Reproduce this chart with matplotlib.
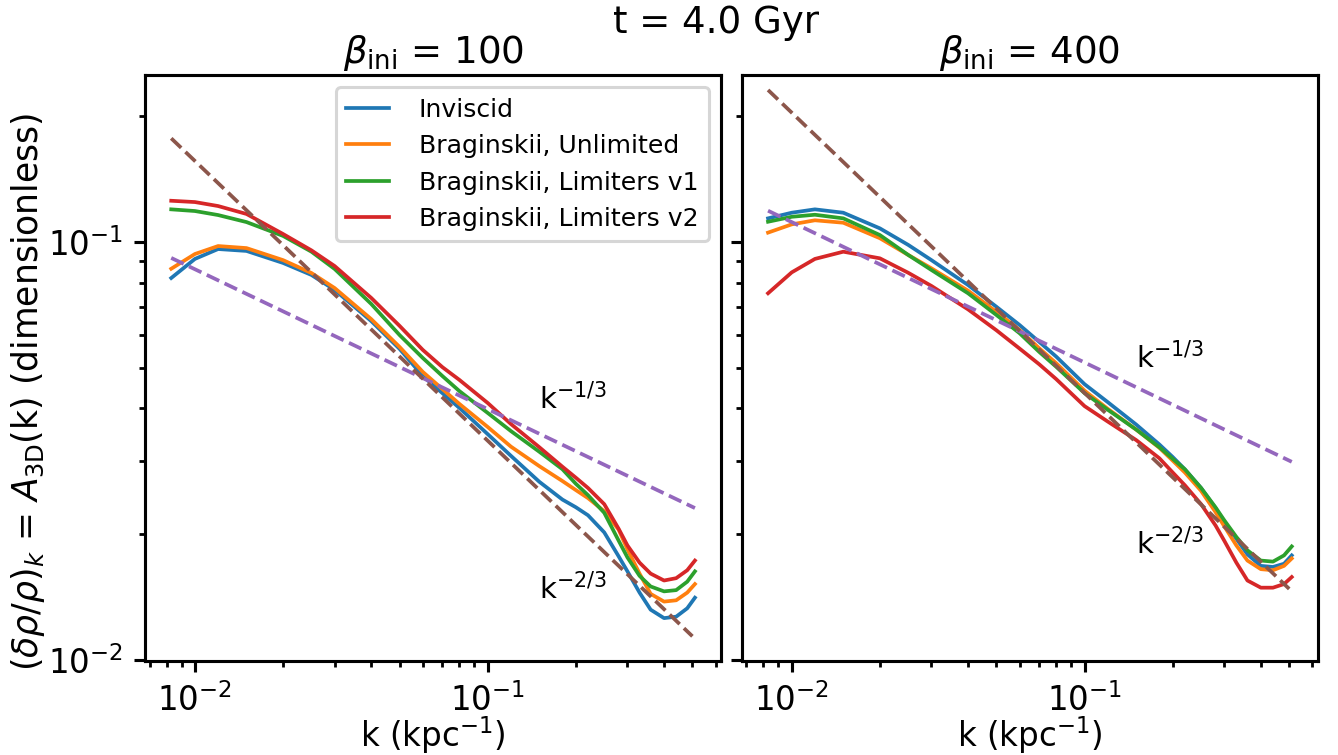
import matplotlib
matplotlib.use("Agg")
import matplotlib.pyplot as plt

# wavenumbers (kpc^-1), shared by every curve
k = [0.0083, 0.01, 0.012, 0.015, 0.02, 0.025, 0.03, 0.04, 0.05, 0.06, 0.07,
     0.08, 0.1, 0.12, 0.15, 0.18, 0.2, 0.22, 0.25, 0.28, 0.3, 0.33, 0.36,
     0.4, 0.44, 0.48, 0.51]

labels = ["Inviscid", "Braginskii, Unlimited", "Braginskii, Limiters v1",
          "Braginskii, Limiters v2"]

# beta_ini = 100
b100_inviscid = [0.0820, 0.0911, 0.0962, 0.0952, 0.0891, 0.0834, 0.0768, 0.0647,
                 0.0555, 0.0478, 0.0435, 0.0401, 0.0347, 0.0308, 0.0267, 0.0242,
                 0.0232, 0.0222, 0.0202, 0.0177, 0.0163, 0.0145, 0.0132, 0.0126,
                 0.0127, 0.0133, 0.0141]
b100_unlimited = [0.0863, 0.0936, 0.0978, 0.0967, 0.0905, 0.0843, 0.0776, 0.0654,
                  0.0561, 0.0489, 0.0445, 0.0410, 0.0361, 0.0324, 0.0291, 0.0268,
                  0.0255, 0.0244, 0.0227, 0.0205, 0.0184, 0.0161, 0.0144, 0.0138,
                  0.0139, 0.0145, 0.0152]
b100_lim_v1 = [0.1197, 0.1186, 0.1160, 0.1116, 0.1034, 0.0948, 0.0862, 0.0711,
               0.0599, 0.0528, 0.0478, 0.0440, 0.0390, 0.0353, 0.0315, 0.0286,
               0.0264, 0.0248, 0.0225, 0.0193, 0.0176, 0.0159, 0.0150, 0.0146,
               0.0147, 0.0154, 0.0163]
b100_lim_v2 = [0.1255, 0.1246, 0.1219, 0.1167, 0.1045, 0.0955, 0.0876, 0.0735,
               0.0630, 0.0552, 0.0502, 0.0468, 0.0412, 0.0367, 0.0323, 0.0290,
               0.0273, 0.0258, 0.0236, 0.0206, 0.0188, 0.0171, 0.0161, 0.0155,
               0.0157, 0.0164, 0.0173]

# beta_ini = 400
b400_inviscid = [0.1139, 0.1175, 0.1197, 0.1175, 0.1078, 0.0984, 0.0905, 0.0789,
                 0.0700, 0.0633, 0.0577, 0.0532, 0.0457, 0.0414, 0.0366, 0.0328,
                 0.0306, 0.0286, 0.0258, 0.0231, 0.0214, 0.0195, 0.0179, 0.0168,
                 0.0167, 0.0170, 0.0178]
b400_unlimited = [0.1053, 0.1102, 0.1127, 0.1112, 0.1021, 0.0931, 0.0865, 0.0765,
                  0.0681, 0.0616, 0.0557, 0.0513, 0.0441, 0.0399, 0.0356, 0.0322,
                  0.0300, 0.0281, 0.0254, 0.0226, 0.0209, 0.0188, 0.0173, 0.0165,
                  0.0164, 0.0168, 0.0175]
b400_lim_v1 = [0.1118, 0.1149, 0.1162, 0.1139, 0.1039, 0.0931, 0.0857, 0.0754,
               0.0669, 0.0605, 0.0546, 0.0503, 0.0435, 0.0397, 0.0356, 0.0323,
               0.0303, 0.0286, 0.0258, 0.0232, 0.0216, 0.0197, 0.0183, 0.0173,
               0.0172, 0.0178, 0.0187]
b400_lim_v2 = [0.0754, 0.0846, 0.0911, 0.0948, 0.0914, 0.0844, 0.0785, 0.0690,
               0.0615, 0.0556, 0.0510, 0.0470, 0.0405, 0.0372, 0.0336, 0.0304,
               0.0281, 0.0262, 0.0236, 0.0210, 0.0193, 0.0171, 0.0155, 0.0149,
               0.0149, 0.0152, 0.0158]

# reference power laws, given by their two end points
k_23 = [0.0083, 0.5]
k_13 = [0.0083, 0.51]
ref_23 = {100: [0.177, 0.0114], 400: [0.231, 0.0148]}
ref_13 = {100: [0.0916, 0.0231], 400: [0.1188, 0.0298]}

# where the power-law labels sit
label_13 = {100: (0.15, 0.040), 400: (0.15, 0.050)}
label_23 = {100: (0.15, 0.014), 400: (0.15, 0.018)}

panels = {100: [b100_inviscid, b100_unlimited, b100_lim_v1, b100_lim_v2],
          400: [b400_inviscid, b400_unlimited, b400_lim_v1, b400_lim_v2]}

fig, axes = plt.subplots(1, 2, figsize=(6.0, 3.386), dpi=223, sharey=True)
fig.subplots_adjust(left=0.1084, right=0.985, top=0.9007, bottom=0.1245,
                    wspace=0.036)

for ax, beta in zip(axes, [100, 400]):
    for serie, lab in zip(panels[beta], labels):
        ax.loglog(k, serie, lw=1.2, label=lab)
    ax.loglog(k_13, ref_13[beta], "--", color="tab:purple", lw=1.2)
    ax.loglog(k_23, ref_23[beta], "--", color="tab:brown", lw=1.2)

    ax.text(*label_13[beta], "k$^{-1/3}$", fontsize=9.5)
    ax.text(*label_23[beta], "k$^{-2/3}$", fontsize=9.5)

    ax.set_title(r"$\beta_{\rm ini}$ = %d" % beta, fontsize=12, pad=4)
    ax.set_xlabel("k (kpc$^{-1}$)", fontsize=10.5, labelpad=-1)
    for sp in ax.spines.values():
        sp.set_linewidth(1.0)
    ax.tick_params(which="major", width=1.0, labelsize=10.5)
    ax.tick_params(which="minor", width=0.9)

axes[0].set_ylim(0.00995, 0.251)
axes[0].set_ylabel(r"$(\delta\rho/\rho)_k$ = $A_{\rm 3D}$(k) (dimensionless)",
                   fontsize=11.2)
axes[0].yaxis.set_label_coords(-0.17, 0.46)
axes[0].legend(loc="upper right", fontsize=8.1, handlelength=1.7,
               handletextpad=1.2)

fig.suptitle("t = 4.0 Gyr", fontsize=12, x=0.535, y=0.995)

fig.savefig("out.png", dpi=223)
